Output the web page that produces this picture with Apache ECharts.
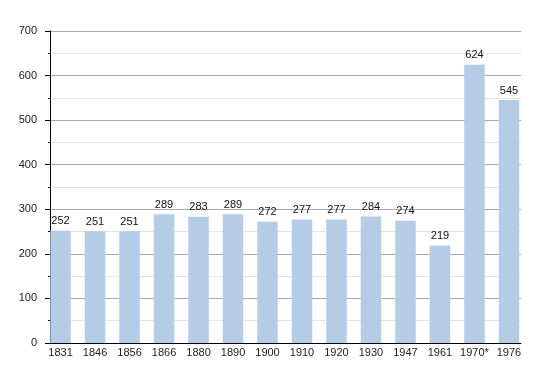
<!DOCTYPE html>
<html>
<head>
<meta charset="utf-8">
<script src="https://cdn.jsdelivr.net/npm/echarts@6/dist/echarts.min.js"></script>
<style>html,body{margin:0;padding:0;background:#fff}#c{width:550px;height:373px}</style>
</head>
<body>
<div id="c"></div>
<script>
const categories = ['1831','1846','1856','1866','1880','1890','1900','1910','1920','1930','1947','1961','1970*','1976'];
const population = [252,251,251,289,283,289,272,277,277,284,274,219,624,545];
const yTicks = [0,100,200,300,400,500,600,700];

const font = 'Liberation Sans, Arial, sans-serif';
const chart = echarts.init(document.getElementById('c'), null, {renderer:'canvas'});
chart.setOption({
  animation: false,
  backgroundColor: '#fff',
  grid: [
    {left: 50, right: 29, top: 31, bottom: 30},
    {left: 43.3, right: 23.8, top: 31, bottom: 30}
  ],
  xAxis: [
    {gridIndex: 0, type: 'value', min: 0, max: 1,
     axisLine: {show: true, onZero: false, lineStyle: {color: '#000', width: 1}},
     axisTick: {show: false}, axisLabel: {show: false}, splitLine: {show: false}},
    {gridIndex: 1, type: 'category', data: categories,
     axisLine: {show: false}, axisTick: {show: false},
     axisLabel: {color: '#222', fontSize: 11, fontFamily: font, margin: 4, interval: 0}}
  ],
  yAxis: [
    {gridIndex: 0, type: 'value', min: yTicks[0], max: yTicks[yTicks.length-1], interval: 100,
     axisLine: {show: true, lineStyle: {color: '#000', width: 1}},
     axisTick: {show: true, length: 5, lineStyle: {color: '#000'}},
     minorTick: {show: true, splitNumber: 2, length: 2, lineStyle: {color: '#000'}},
     axisLabel: {color: '#222', fontSize: 11, fontFamily: font, margin: 13},
     splitLine: {show: true, lineStyle: {color: '#aaaaaa', width: 1}},
     minorSplitLine: {show: true, lineStyle: {color: '#e4e4e4', width: 1}}},
    {gridIndex: 1, type: 'value', min: 0, max: 700, show: false}
  ],
  series: [{
    type: 'bar',
    xAxisIndex: 1, yAxisIndex: 1,
    data: population,
    barWidth: 20.5,
    itemStyle: {color: '#b4cce6'},
    label: {show: true, position: 'top', distance: 4, color: '#111', fontSize: 11, fontFamily: font}
  }]
});
</script>
</body>
</html>
